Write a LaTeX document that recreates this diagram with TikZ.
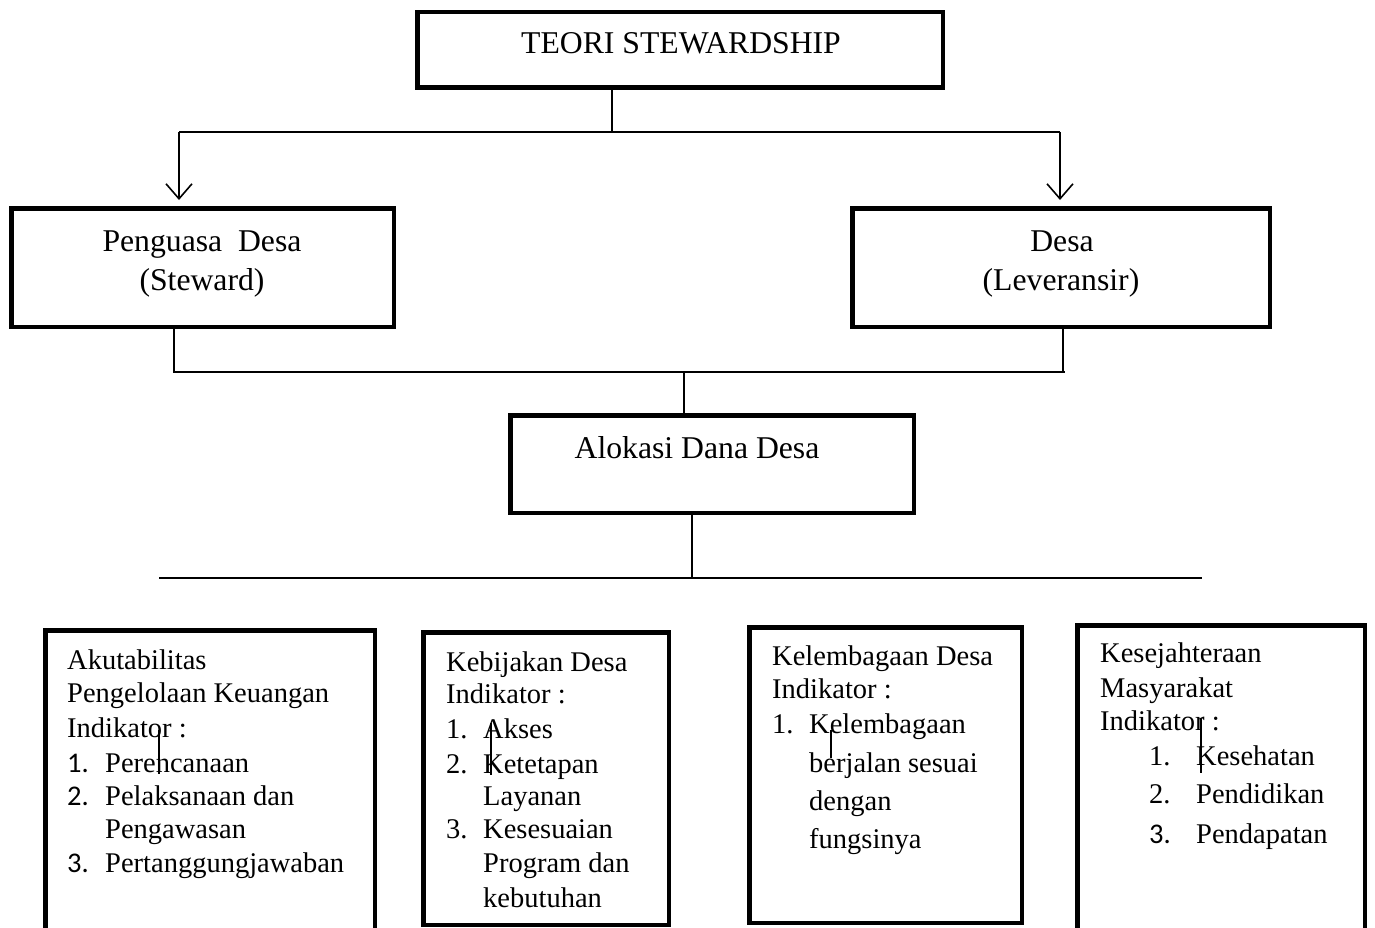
\documentclass[tikz,border=0pt]{standalone}
\usepackage{fontspec}
\setmainfont{Liberation Serif}
\newfontfamily\numfont{Carlito}
\usetikzlibrary{arrows.meta}
\begin{document}
\begin{tikzpicture}[x=1pt,y=-1pt,
  bigbox/.style={draw, line width=4.5pt, inner sep=0pt},
  conn/.style={line width=1.6pt},
  arr/.style={conn, -{Straight Barb[length=15pt,width=26pt,line width=1.6pt]}, shorten >=6pt},
  toptxt/.style={font=\fontsize{31.7}{39}\selectfont, inner sep=0pt, anchor=base},
  bt/.style={font=\fontsize{28.5}{34}\selectfont, inner sep=0pt, anchor=base west},
  tick/.style={line width=1.5pt}]
\useasboundingbox (0,0) rectangle (1375,928);

% main boxes
\node[bigbox, minimum width=525.5pt, minimum height=75.5pt] (A) at (680,50) {};
\node[toptxt] (At) at (681,54) {TEORI STEWARDSHIP};

\node[bigbox, minimum width=382.5pt, minimum height=118.5pt] (B) at (202.5,267.5) {};
\node[toptxt] (Bt1) at (202,251) {Penguasa\ \ Desa};
\node[toptxt] (Bt2) at (202,290) {(Steward)};

\node[bigbox, minimum width=417.5pt, minimum height=118.5pt] (C) at (1061,267.5) {};
\node[toptxt] (Ct1) at (1062,251) {Desa};
\node[toptxt] (Ct2) at (1061,290) {(Leveransir)};

\node[bigbox, minimum width=403.5pt, minimum height=97.5pt] (D) at (712,464) {};
\node[toptxt] (Dt) at (697,458) {Alokasi Dana Desa};

% bottom boxes
\node[bigbox, minimum width=329.5pt, minimum height=312.5pt] (E1) at (210,786.5) {};
\node[bigbox, minimum width=245.5pt, minimum height=292.5pt] (E2) at (546,778.5) {};
\node[bigbox, minimum width=272.5pt, minimum height=295.5pt] (E3) at (885.5,775) {};
\node[bigbox, minimum width=287.5pt, minimum height=317.5pt] (E4) at (1221,784) {};

% connectors
\coordinate (a1) at (612,132);
\coordinate (hl) at (179,132);
\coordinate (hr) at (1060,132);
\draw[conn] (A.south -| a1) -- (a1);
\draw[conn] (hl) -- (hr);
\draw[arr] (hl) -- (B.north -| hl);
\draw[arr] (hr) -- (C.north -| hr);

\coordinate (j2l) at (174,372);
\coordinate (j2r) at (1065,372);
\coordinate (j2c) at (1063,372);
\coordinate (j2m) at (684,372);
\draw[conn] (B.south -| j2l) -- (j2l) -- (j2r);
\draw[conn] (C.south -| j2c) -- (j2c);
\draw[conn] (j2m) -- (D.north -| j2m);

\coordinate (j3) at (692,578);
\coordinate (j3l) at (159,578);
\coordinate (j3r) at (1202,578);
\draw[conn] (D.south -| j3) -- (j3);
\draw[conn] (j3l) -- (j3r);

% box 1 text
\foreach \x/\y/\t [count=\i] in {67/669/Akutabilitas, 67/702/Pengelolaan Keuangan, 67/737/Indikator :,
  67/772/{\numfont 1.}, 105/772/Perencanaan, 67/805/{\numfont 2.}, 105/805/Pelaksanaan dan,
  105/838/Pengawasan, 67/872/{\numfont 3.}, 105/872/Pertanggungjawaban}
  \node[bt] (ea\i) at (\x,\y) {\t};
% box 2 text
\foreach \x/\y/\t [count=\i] in {446/671/Kebijakan Desa, 446/703/Indikator :,
  446/738/1., 483/738/Akses, 446/773/2., 483/773/Ketetapan, 483/805/Layanan,
  446/838/3., 483/838/Kesesuaian, 483/872/Program dan, 483/907/kebutuhan}
  \node[bt] (eb\i) at (\x,\y) {\t};
% box 3 text
\foreach \x/\y/\t [count=\i] in {772/665/Kelembagaan Desa, 772/698/Indikator :,
  772/733/1., 809/733/Kelembagaan, 809/772/berjalan sesuai, 809/810/dengan, 809/848/fungsinya}
  \node[bt] (ec\i) at (\x,\y) {\t};
% box 4 text
\foreach \x/\y/\t [count=\i] in {1100/662/Kesejahteraan, 1100/697/Masyarakat, 1100/730/Indikator :,
  1149/765/1., 1196/765/Kesehatan, 1149/803/2., 1196/803/Pendidikan,
  1149/843/{\numfont 3.}, 1196/843/Pendapatan}
  \node[bt] (ed\i) at (\x,\y) {\t};

% cursor ticks
\draw[tick] (159,730) -- (159,774);
\draw[tick] (491,723) -- (491,775);
\draw[tick] (831,730) -- (831,758);
\draw[tick] (1201,718) -- (1201,773);
\end{tikzpicture}
\end{document}
